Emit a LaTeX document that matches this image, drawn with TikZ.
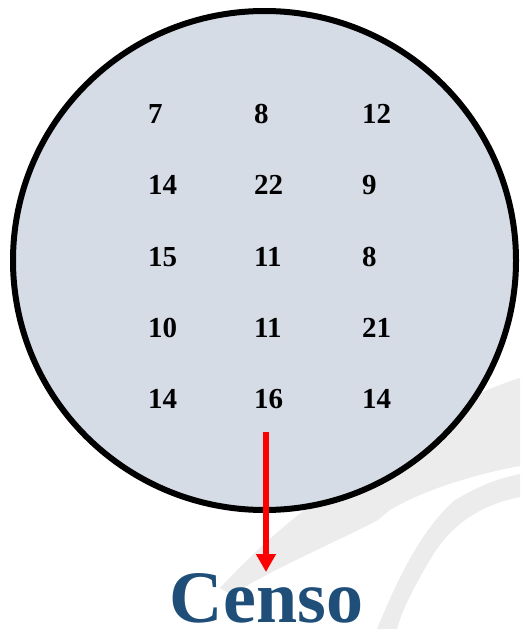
\documentclass[tikz,border=0pt]{standalone}
\usepackage{fontspec}
\setmainfont{Liberation Serif}
\usetikzlibrary{arrows.meta,shapes.geometric}
\definecolor{circfill}{RGB}{214,220,230}
\definecolor{censoblue}{RGB}{31,78,121}
\definecolor{swoosh}{RGB}{236,236,236}
\tikzset{
  num/.style={anchor=base west, inner sep=0pt, font=\fontsize{29}{29}\selectfont\bfseries},
  redarrow/.style={draw=red, line width=6pt, -{Triangle[width=19pt,length=18pt]}},
}
\begin{document}
\begin{tikzpicture}[x=1pt,y=-1pt]
\useasboundingbox (0,0) rectangle (520,629);
% faint background swooshes
\fill[swoosh] (220,588) .. controls (260,545) and (300,510) .. (360,470)
  .. controls (420,420) and (480,390) .. (520,378)
  -- (520,466) .. controls (470,475) and (420,492) .. (390,510)
  -- (378,520) .. controls (330,545) and (270,570) .. (232,595) -- cycle;
\fill[swoosh] (377,629) .. controls (395,585) and (420,530) .. (455,500)
  .. controls (480,485) and (500,478) .. (520,474)
  -- (520,497) .. controls (480,505) and (450,525) .. (430,560)
  .. controls (415,585) and (402,610) .. (397,629) -- cycle;
% population circle
\node[draw=black, line width=6pt, fill=circfill, ellipse, minimum width=503pt, minimum height=499pt, inner sep=0pt] (pop) at (264.5,260.5) {};
% numbers
\node[num] (a1) at (148,123) {7};
\node[num] (b1) at (254,123) {8};
\node[num] (c1) at (362,123) {12};
\node[num] (a2) at (148,194) {14};
\node[num] (b2) at (254,194) {22};
\node[num] (c2) at (362,194) {9};
\node[num] (a3) at (148,266) {15};
\node[num] (b3) at (254,266) {11};
\node[num] (c3) at (362,266) {8};
\node[num] (a4) at (148,337) {10};
\node[num] (b4) at (254,337) {11};
\node[num] (c4) at (362,337) {21};
\node[num] (a5) at (148,408) {14};
\node[num] (b5) at (254,408) {16};
\node[num] (c5) at (362,408) {14};
% label
\node[anchor=base, inner sep=0pt, text=censoblue, font=\fontsize{74}{74}\selectfont\bfseries] (censo) at (266.5,622) {Censo};
\coordinate (arrstart) at (266,432);
\coordinate (arrend) at (266,572);
\draw[redarrow] (arrstart) -- (arrend);
\end{tikzpicture}
\end{document}
